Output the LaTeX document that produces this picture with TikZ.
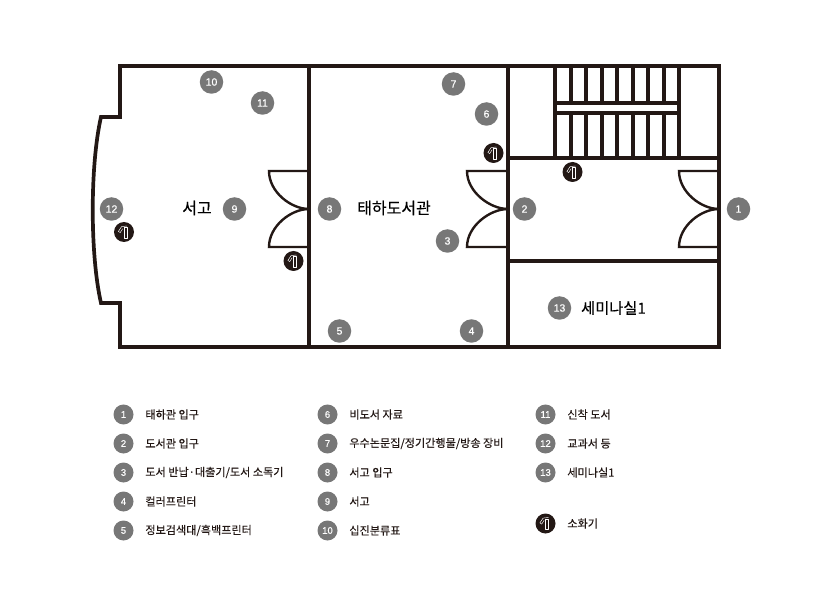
\documentclass[tikz,border=0pt]{standalone}
\usepackage{fontspec}
\setmainfont[FakeBold=0.3]{Noto Sans CJK KR}
\newfontfamily\numfont[FakeBold=0.6]{Liberation Sans}
\definecolor{wallink}{HTML}{231815}
\definecolor{markgray}{HTML}{777777}
\tikzset{
    wall/.style={draw=wallink, line width=3.7pt, line join=miter},
    stair/.style={draw=wallink, line width=3.2pt},
    door/.style={draw=wallink, line width=2.4pt},
    num/.style={circle, fill=markgray, minimum size=23.5pt, inner sep=0pt, text=white, font=\numfont\fontsize{10.5}{10.5}\selectfont},
    ext/.style={circle, fill=wallink, minimum size=20pt, inner sep=0pt},
    room/.style={inner sep=0pt, text=black, font=\fontsize{16}{16}\selectfont},
    legend/.style={inner sep=0pt, text=wallink, font=\fontsize{11.1}{11.1}\selectfont},
    smallnum/.style={num, minimum size=20pt, font=\numfont\fontsize{9.5}{9.5}\selectfont},
}
% extinguisher glyph, centred on a node
\newcommand{\extglyph}[1]{
    \draw[white, line width=.45pt, line join=round] ($(#1)+(-.2,-4.4)$) rectangle ($(#1)+(3,6)$);
    \draw[white, line width=.45pt] ($(#1)+(3,-6)$) -- ($(#1)+(-2.4,-5.4)$) -- ($(#1)+(-5.6,-.6)$) -- ($(#1)+(-3.8,.6)$) -- ($(#1)+(-1.4,-3.2)$);
}
% double door, hinges at x=#1 (leaf end) and x=#2 (wall)
\newcommand{\dbldoor}[2]{
    \draw[door] (#2,171) -- (#1,171) .. controls (#1,192) and (#2-18,209) .. (#2,209);
    \draw[door] (#2,247) -- (#1,247) .. controls (#1,226) and (#2-18,209) .. (#2,209);
}
\usetikzlibrary{positioning, calc}
\begin{document}
\begin{tikzpicture}[x=1pt, y=-1pt]
    \useasboundingbox[fill=white] (0,0) rectangle (831,596);

    % stairs
    \foreach \xs in {555,571,586,602,617,633,648,664,679} {
        \draw[stair] (\xs,66) -- (\xs,103);
        \draw[stair] (\xs,113) -- (\xs,158);
    }
    \draw[stair] (555,103) rectangle (679,113);

    % doors
    \dbldoor{269}{309}
    \dbldoor{467}{508}
    \dbldoor{679}{719}

    % walls
    \draw[wall] (120,66) -- (719,66) -- (719,347) -- (120,347) -- (120,303) -- (101,303)
        .. controls (90,255) and (90,165) .. (101,117) -- (120,117) -- cycle;
    \draw[wall] (309,66) -- (309,347);
    \draw[wall] (508,66) -- (508,347);
    \draw[wall] (508,158) -- (719,158);
    \draw[wall] (508,261) -- (719,261);

    % plan markers
    \node (n1)  [num] at (738.5,209) {1};
    \node (n2)  [num] at (524.5,209) {2};
    \node (n3)  [num] at (447.5,241) {3};
    \node (n4)  [num] at (471.5,331) {4};
    \node (n5)  [num] at (339.5,331) {5};
    \node (n6)  [num] at (486.5,114) {6};
    \node (n7)  [num] at (453.5,84)  {7};
    \node (n8)  [num] at (329.5,209) {8};
    \node (n9)  [num] at (234.5,209) {9};
    \node (n10) [num] at (211.5,82)  {10};
    \node (n11) [num] at (262.5,103) {11};
    \node (n12) [num] at (111.5,209) {12};
    \node (n13) [num] at (559.5,308) {13};

    % extinguishers
    \node (exta) [ext] at (124,232) {};
    \node (extb) [ext] at (293.5,261) {};
    \node (extc) [ext] at (493.5,153) {};
    \node (extd) [ext] at (572.5,172) {};
    \extglyph{exta}
    \extglyph{extb}
    \extglyph{extc}
    \extglyph{extd}

    % rooms
    \node (stacks)  [room] at (197,208) {서고};
    \node (library) [room] at (394,208) {태하도서관};
    \node (seminar) [room, right=9.5pt of n13, font=\fontsize{15.3}{15.3}\selectfont] {세미나실1};

    % legend
    \foreach \i/\xc/\yc/\txt in {
        1/123.5/414.5/태하관 입구,
        2/123.5/443.5/도서관 입구,
        3/123.5/472.5/{도서 반납·대출기/도서 소독기},
        4/123.5/501.5/컬러프린터,
        5/123.5/530.5/{정보검색대/흑백프린터},
        6/327.5/414.5/비도서 자료,
        7/327.5/443.5/{우수논문집/정기간행물/방송 장비},
        8/327.5/472.5/서고 입구,
        9/327.5/501.5/서고,
        10/327.5/530.5/십진분류표,
        11/545.5/414.5/신착 도서,
        12/545.5/443.5/교과서 등,
        13/545.5/472.5/세미나실1
    } {
        \node (key\i) [smallnum] at (\xc,\yc) {\i};
        \node (keytxt\i) [legend, right=11.5pt of key\i] {\txt};
    }
    \node (keyext) [ext] at (545.5,523.5) {};
    \extglyph{keyext}
    \node (keytxtext) [legend, right=11.5pt of keyext] {소화기};
\end{tikzpicture}
\end{document}
